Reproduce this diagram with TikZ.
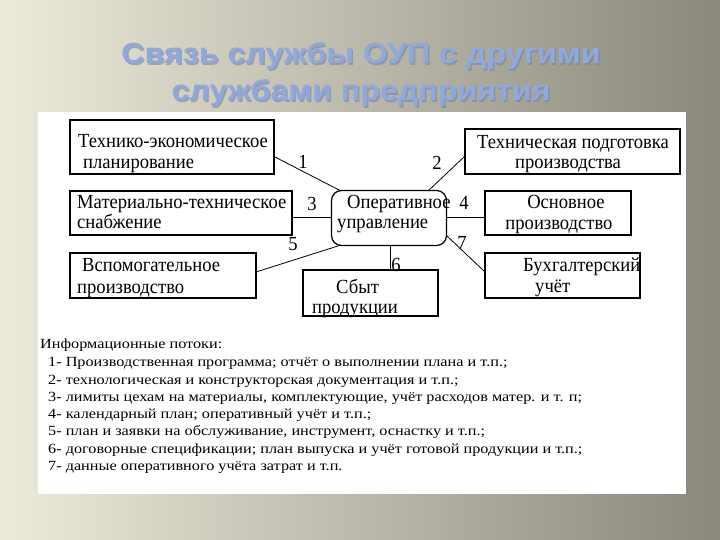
\documentclass[tikz,border=0pt]{standalone}
\usepackage{fontspec}
\setmainfont{Liberation Serif}
\newfontfamily\titlefont[FakeStretch=1.11]{Liberation Sans Bold}
\newfontfamily\boxfont[FakeStretch=0.93]{Liberation Serif}
\newfontfamily\infofont[FakeStretch=1.16]{Liberation Serif}
\definecolor{titleblue}{HTML}{8FA8DE}
\definecolor{titleshadow}{HTML}{7A8399}
\definecolor{bgl}{HTML}{ECEADA}
\definecolor{bgm}{HTML}{BAB7A8}
\definecolor{bgd}{HTML}{8A887C}
\begin{document}
\begin{tikzpicture}[x=1bp,y=-1bp,
  box/.style={draw=black, line width=1.2bp, inner sep=0pt},
  lbl/.style={font=\boxfont\fontsize{20bp}{22bp}\selectfont, inner sep=0pt, anchor=base west},
  clbl/.style={font=\boxfont\fontsize{20bp}{22bp}\selectfont, inner sep=0pt, anchor=base},
  num/.style={font=\boxfont\fontsize{20bp}{22bp}\selectfont, inner sep=0pt},
  link/.style={draw=black, line width=0.8bp},
  ttl/.style={font=\titlefont\fontsize{29bp}{34bp}\selectfont, inner sep=0pt, text=titleblue},
  ttlsh/.style={font=\titlefont\fontsize{29bp}{34bp}\selectfont, inner sep=0pt, text=titleshadow, opacity=0.6},
  info/.style={font=\infofont\fontsize{14bp}{17.4bp}\selectfont, inner sep=0pt, anchor=base west}]
\useasboundingbox (0,0) rectangle (720,540);
\shade[left color=bgl, middle color=bgm, right color=bgd] (0,0) rectangle (720,540);
% title
\node[ttlsh] (t1s) at (362.5,57.5) {Связь службы ОУП с другими};
\node[ttlsh] (t2s) at (362.5,94.5) {службами предприятия};
\node[ttl] (t1) at (361,56) {Связь службы ОУП с другими};
\node[ttl] (t2) at (361,93) {службами предприятия};
% white panel
\fill[white] (38,112) rectangle (686,494);
% boxes
\node[box, minimum width=204bp, minimum height=54bp] (tep) at (172,147) {};
\node[box, minimum width=215bp, minimum height=45bp] (tpp) at (572.5,151.5) {};
\node[box, minimum width=222bp, minimum height=44bp] (mts) at (181,213) {};
\node[box, rounded corners=10bp, minimum width=115bp, minimum height=55bp] (opu) at (389,218) {};
\node[box, minimum width=146bp, minimum height=44bp] (osp) at (558,213) {};
\node[box, minimum width=186bp, minimum height=45bp] (vsp) at (163,275.5) {};
\node[box, minimum width=135bp, minimum height=46bp] (sbp) at (370.5,293) {};
\node[box, minimum width=155bp, minimum height=45bp] (buh) at (562.5,275.5) {};
% texts
\node[lbl] (tepa) at (78,148) {Технико-экономическое};
\node[lbl] (tepb) at (83,169) {планирование};
\node[clbl] (tppa) at (573,149) {Техническая подготовка};
\node[clbl] (tppb) at (568,169) {производства};
\node[lbl] (mtsa) at (77,209) {Материально-техническое};
\node[lbl] (mtsb) at (77,229) {снабжение};
\node[lbl] (opua) at (347,209) {Оперативное};
\node[lbl] (opub) at (337,229) {управление};
\node[clbl] (ospa) at (566,209) {Основное};
\node[clbl] (ospb) at (559,229.5) {производство};
\node[lbl] (vspa) at (82,272) {Вспомогательное};
\node[lbl] (vspb) at (77,293) {производство};
\node[lbl] (sbpa) at (336,293) {Сбыт};
\node[lbl] (sbpb) at (312,313) {продукции};
\node[lbl] (buha) at (523,272) {Бухгалтерский};
\node[lbl] (buhb) at (535,292) {учёт};
% connector ends
\coordinate (e1a) at (273,156); \coordinate (e1b) at (341,191);
\coordinate (e2a) at (465,156); \coordinate (e2b) at (428,191);
\coordinate (e3a) at (292,217); \coordinate (e3b) at (332,217);
\coordinate (e4a) at (447,217); \coordinate (e4b) at (485,217);
\coordinate (e5a) at (256,272); \coordinate (e5b) at (341,245);
\coordinate (e6a) at (390,246); \coordinate (e6b) at (390,270);
\coordinate (e7a) at (447,236); \coordinate (e7b) at (485,272);
\draw[link] (e1a) -- (e1b);
\draw[link] (e2a) -- (e2b);
\draw[link] (e3a) -- (e3b);
\draw[link] (e4a) -- (e4b);
\draw[link] (e5a) -- (e5b);
\draw[link] (e6a) -- (e6b);
\draw[link] (e7a) -- (e7b);
% numbers
\node[num] (n1) at (303,162) {1};
\node[num] (n2) at (437,163) {2};
\node[num] (n3) at (312,204) {3};
\node[num] (n4) at (464,203) {4};
\node[num] (n5) at (293,244) {5};
\node[num] (n6) at (396,265) {6};
\node[num] (n7) at (462,243) {7};
% info text
\node[info] (ih) at (40,348) {Информационные потоки:};
\node[info] (i1) at (48,366) {1- Производственная программа; отчёт о выполнении плана и т.п.;};
\node[info] (i2) at (48,384) {2- технологическая и конструкторская документация и т.п.;};
\node[info] (i3) at (48,401) {3- лимиты цехам на материалы, комплектующие, учёт расходов матер. и т. п;};
\node[info] (i4) at (48,418) {4- календарный план; оперативный учёт и т.п.;};
\node[info] (i5) at (48,435) {5- план и заявки на обслуживание, инструмент, оснастку и т.п.;};
\node[info] (i6) at (48,453) {6- договорные спецификации; план выпуска и учёт готовой продукции и т.п.;};
\node[info] (i7) at (48,470) {7- данные оперативного учёта затрат и т.п.};
\end{tikzpicture}
\end{document}
